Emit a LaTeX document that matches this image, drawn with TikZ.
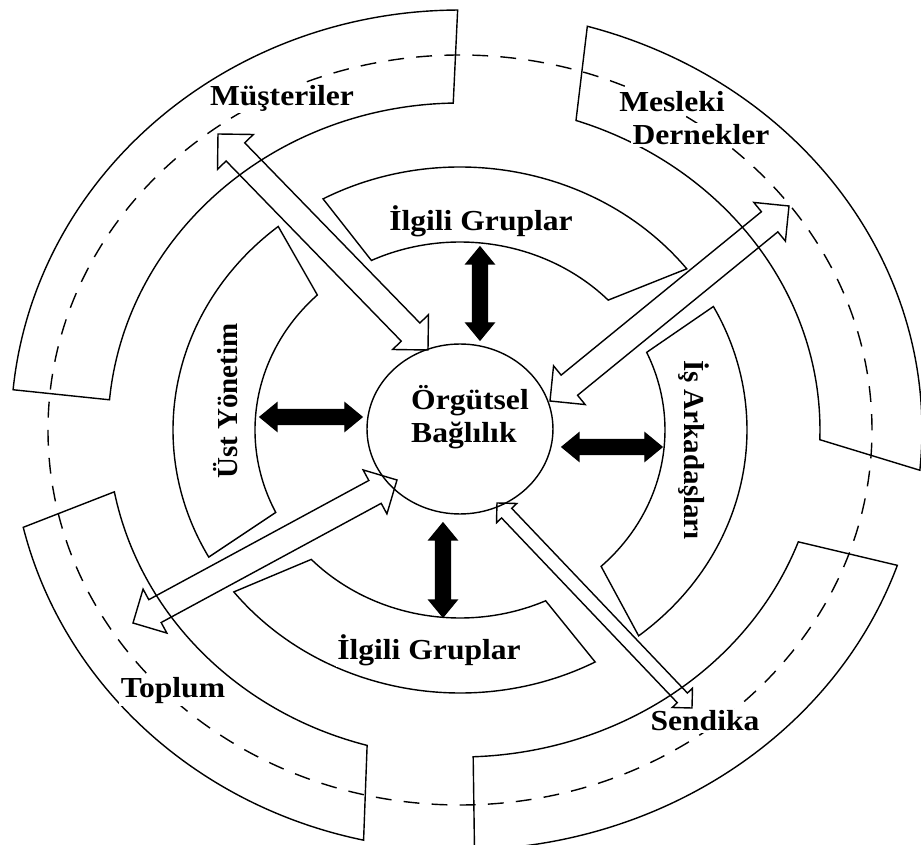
\documentclass[tikz,border=0pt]{standalone}
\usepackage{fontspec}
\setmainfont{Liberation Serif}
\usetikzlibrary{calc,shapes.geometric}

\newcommand{\blockarrow}[6][]{%
  \draw[#1] (#2)
    -- ($(#2)!#6!(#3)!#5!90:(#3)$) -- ($(#2)!#6!(#3)!#4!90:(#3)$)
    -- ($(#3)!#6!(#2)!#4!-90:(#2)$) -- ($(#3)!#6!(#2)!#5!-90:(#2)$)
    -- (#3)
    -- ($(#3)!#6!(#2)!#5!90:(#2)$) -- ($(#3)!#6!(#2)!#4!90:(#2)$)
    -- ($(#2)!#6!(#3)!#4!-90:(#3)$) -- ($(#2)!#6!(#3)!#5!-90:(#3)$)
    -- cycle;}
\newcommand{\wide}[1]{\scalebox{1.09}[1]{#1}}

\begin{document}
\begin{tikzpicture}[x=0.02cm, y=0.02cm, line width=0.8pt,
    lbl/.style={fill=white, inner sep=1pt, font=\bfseries\fontsize{16.5}{19}\selectfont},
    dashring/.style={dash pattern=on 9pt off 7pt},
    blk/.style={fill=black}]
\clip (-460,-415) rectangle (461,430);
\fill[white] (-460,-415) rectangle (461,430);

% inner ring
\draw (118.5:287 and 263) arc[start angle=118.5, end angle=37.8, x radius=287, y radius=263]
  -- (43.7:205 and 188) arc[start angle=43.7, end angle=115.6, x radius=205, y radius=188] -- cycle;
\draw (129.3:287 and 263) arc[start angle=129.3, end angle=208.9, x radius=287, y radius=263]
  -- (206:205 and 188) arc[start angle=206, end angle=134.1, x radius=205, y radius=188] -- cycle;
\draw (218:287 and 263) arc[start angle=218, end angle=298.1, x radius=287, y radius=263]
  -- (294.7:205 and 188) arc[start angle=294.7, end angle=223.5, x radius=205, y radius=188] -- cycle;
\draw (-51.5:287 and 263) arc[start angle=-51.5, end angle=28, x radius=287, y radius=263]
  -- (24.4:205 and 188) arc[start angle=24.4, end angle=-46.5, x radius=205, y radius=188] -- cycle;

% outer ring
\draw (174.5:449 and 420) arc[start angle=174.5, end angle=90.3, x radius=449, y radius=420]
  -- (91.1:352 and 327) arc[start angle=91.1, end angle=174.7, x radius=352, y radius=327] -- cycle;
\draw (74:462 and 420) arc[start angle=74, end angle=-5.5, x radius=462, y radius=420]
  -- (-1.7:360 and 327) arc[start angle=-1.7, end angle=71.2, x radius=360, y radius=327] -- cycle;
\draw (-18.8:462 and 420) arc[start angle=-18.8, end angle=-88.2, x radius=462, y radius=420]
  -- (-87.9:360 and 327) arc[start angle=-87.9, end angle=-20, x radius=360, y radius=327] -- cycle;
\draw (193.4:449 and 420) arc[start angle=193.4, end angle=257.6, x radius=449, y radius=420]
  -- (254.7:352 and 327) arc[start angle=254.7, end angle=190.9, x radius=352, y radius=327] -- cycle;

\draw[dashring] (0,0) ellipse[x radius=412, y radius=375];

\node[draw, ellipse, minimum width=3.72cm, minimum height=3.4cm, inner sep=0pt] (org) at (0,1) {};
\node[lbl, fill=none, align=left] (orgtext) at (10,13) {\wide{Örgütsel}\\\wide{Bağlılık}};

\node[lbl] (musteri) at (-178,332) {\wide{Müşteriler}};
\node[lbl] (mesleki) at (212,328) {\wide{Mesleki}};
\node[lbl] (dernek) at (241,295) {\wide{Dernekler}};
\node[lbl] (ilgiliust) at (21,209) {\wide{İlgili Gruplar}};
\node[lbl] (ilgilialt) at (-31,-220) {\wide{İlgili Gruplar}};
\node[lbl, rotate=90] (ustyon) at (-234,29) {Üst Yönetim};
\node[lbl, rotate=-90] (isark) at (234,-20) {İş Arkadaşları};
\node[lbl] (toplum) at (-287,-261) {\wide{Toplum}};
\node[lbl] (sendika) at (245,-291) {\wide{Sendika}};

\coordinate (ust1) at (20,183);
\coordinate (ust2) at (20,90);
\coordinate (alt1) at (-17,-93);
\coordinate (alt2) at (-17,-187);
\coordinate (sol1) at (-200,13);
\coordinate (sol2) at (-98,13);
\coordinate (sag1) at (102,-17);
\coordinate (sag2) at (202,-17);
\blockarrow[blk]{ust1}{ust2}{0.15cm}{0.28cm}{0.34cm}
\blockarrow[blk]{alt1}{alt2}{0.15cm}{0.28cm}{0.34cm}
\blockarrow[blk]{sol1}{sol2}{0.15cm}{0.28cm}{0.34cm}
\blockarrow[blk]{sag1}{sag2}{0.15cm}{0.28cm}{0.34cm}

\coordinate (kb1) at (-242,296);
\coordinate (kb2) at (-32,80);
\coordinate (kd1) at (329,224);
\coordinate (kd2) at (90,29);
\coordinate (gb1) at (-327,-193);
\coordinate (gb2) at (-63,-50);
\coordinate (gd1) at (37,-73);
\coordinate (gd2) at (232,-278);
\blockarrow{kb1}{kb2}{0.26cm}{0.5cm}{0.5cm}
\blockarrow{kd1}{kd2}{0.26cm}{0.5cm}{0.5cm}
\blockarrow{gb1}{gb2}{0.26cm}{0.5cm}{0.5cm}
\blockarrow{gd1}{gd2}{0.14cm}{0.28cm}{0.28cm}
\end{tikzpicture}
\end{document}
